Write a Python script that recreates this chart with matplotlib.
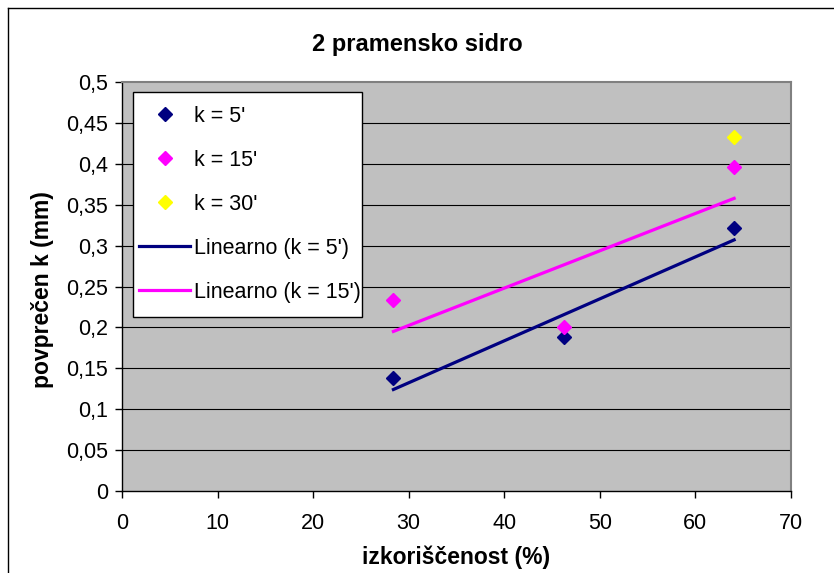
import numpy as np
import matplotlib
matplotlib.use("Agg")
import matplotlib.pyplot as plt
from matplotlib.lines import Line2D
from matplotlib.patches import Rectangle

# ---- data ----
x_vals = [28.4, 46.3, 64.05]
k5 = [0.138, 0.188, 0.321]
k15 = [0.233, 0.2006, 0.396]
x30 = [64.05]
k30 = [0.433]
xticks = [0, 10, 20, 30, 40, 50, 60, 70]
yticks = [0, 0.05, 0.1, 0.15, 0.2, 0.25, 0.3, 0.35, 0.4, 0.45, 0.5]
ytick_labels = ["0", "0,05", "0,1", "0,15", "0,2", "0,25", "0,3", "0,35", "0,4", "0,45", "0,5"]
title = "2 pramensko sidro"
xlabel = "izkoriščenost (%)"
ylabel = "povprečen k (mm)"
labels = ["k = 5'", "k = 15'", "k = 30'", "Linearno (k = 5')", "Linearno (k = 15')"]

plt.rcParams['font.family'] = ['Liberation Sans', 'DejaVu Sans']

W, H = 834, 573
fig = plt.figure(figsize=(W / 100, H / 100), dpi=100)
fig.patch.set_facecolor("white")

# outer chart border (top & left visible)
fig.add_artist(Line2D([8 / W, 8 / W], [0, 1 - 7.5 / H], transform=fig.transFigure, color="black", lw=1.0))
fig.add_artist(Line2D([8 / W, 1], [1 - 7.5 / H, 1 - 7.5 / H], transform=fig.transFigure, color="black", lw=1.0))

left, right, top, bottom = 122, 791, 82, 491
ax = fig.add_axes([left / W, 1 - bottom / H, (right - left) / W, (bottom - top) / H])
ax.set_facecolor("#C0C0C0")
ax.set_xlim(0, 70)
ax.set_ylim(0, 0.5)

for y in yticks[1:-1]:
    ax.axhline(y, color="black", lw=0.8, zorder=1)

for s in ["top", "right"]:
    ax.spines[s].set_color("#808080")
    ax.spines[s].set_linewidth(1.5)
for s in ["left", "bottom"]:
    ax.spines[s].set_color("black")
    ax.spines[s].set_linewidth(1.0)

ax.set_xticks(xticks)
ax.set_xticklabels([str(t) for t in xticks])
ax.set_yticks(yticks)
ax.set_yticklabels(ytick_labels)
ax.tick_params(axis="both", direction="out", length=5, width=1, color="black",
               labelsize=15.5, pad=5)
ax.tick_params(axis="x", pad=11)

navy = "#000080"
mag = "#FF00FF"
yel = "#FFFF00"

ms = 7.5
h1, = ax.plot(x_vals, k5, "D", color=navy, ms=ms, zorder=4, label=labels[0])
h2, = ax.plot(x_vals, k15, "D", color=mag, ms=ms, zorder=4, label=labels[1])
h3, = ax.plot(x30, k30, "D", color=yel, ms=ms, zorder=4, label=labels[2])

xa = np.array(x_vals)
p5 = np.polyfit(xa, np.array(k5), 1)
p15 = np.polyfit(xa, np.array(k15), 1)
xl = np.array([xa.min(), xa.max()])
h4, = ax.plot(xl, np.polyval(p5, xl), color=navy, lw=2.3, zorder=3, label=labels[3])
h5, = ax.plot(xl, np.polyval(p15, xl), color=mag, lw=2.3, zorder=3, label=labels[4])

# legend frame drawn explicitly, legend content without frame
ax.add_patch(Rectangle((133 / W, 1 - 317 / H), (362 - 133) / W, (317 - 92) / H,
                       transform=fig.transFigure, facecolor="white", edgecolor="black",
                       lw=1.0, zorder=5))
leg = ax.legend(handles=[h1, h2, h3, h4, h5], loc="upper left",
                bbox_to_anchor=(139 / W, 1 - 105.5 / H),
                bbox_transform=fig.transFigure, borderaxespad=0,
                fontsize=15.5, numpoints=1, handlelength=2.37, handletextpad=0.2,
                labelspacing=1.07, borderpad=0, frameon=False)
leg.set_zorder(6)

fig.text(417 / W, 1 - 44 / H, title, ha="center", va="center", fontsize=17, fontweight="bold")
fig.text(456 / W, 1 - 557 / H, xlabel, ha="center", va="center", fontsize=16.5, fontweight="bold")
fig.text(43 / W, 1 - 290 / H, ylabel, ha="center", va="center", rotation=90, fontsize=16.5, fontweight="bold")

fig.savefig("out.png", dpi=100)
